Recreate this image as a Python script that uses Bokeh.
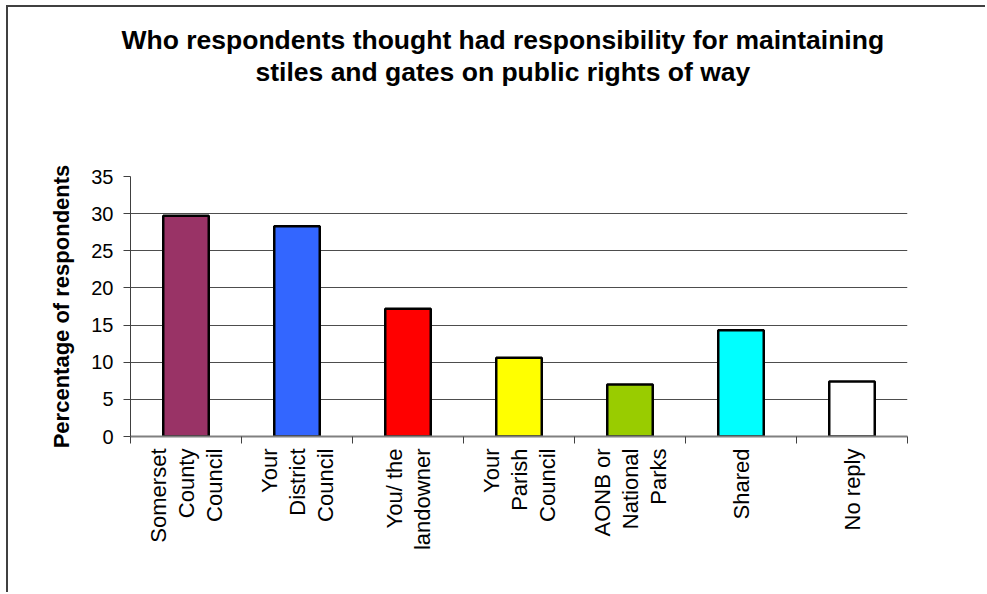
import math
from bokeh.plotting import figure
from bokeh.models import Range1d, FixedTicker, ColumnDataSource, Title
from bokeh.embed import file_html
from bokeh.resources import INLINE

# ---- data ----
categories = ["Somerset County Council", "Your District Council", "You/ the landowner",
              "Your Parish Council", "AONB or National Parks", "Shared", "No reply"]
tick_labels = ["Somerset\nCounty\nCouncil", "Your\nDistrict\nCouncil", "You/ the\nlandowner",
               "Your\nParish\nCouncil", "AONB or\nNational\nParks", "Shared", "No reply"]
values = [29.7, 28.3, 17.2, 10.6, 7.0, 14.3, 7.4]
colors = ["#993366", "#3366FF", "#FF0000", "#FFFF00", "#99CC00", "#00FFFF", "#FFFFFF"]
y_ticks = [0, 5, 10, 15, 20, 25, 30, 35]

title_lines = ["Who respondents thought had responsibility for maintaining",
               "stiles and gates on public rights of way"]
y_label = "Percentage of respondents"

FONT = "Liberation Sans"

n = len(categories)
xpos = [i + 0.5 for i in range(n)]
source = ColumnDataSource(dict(x=xpos, top=values, color=colors, cat=categories))

p = figure(width=979, height=587, output_backend="svg", toolbar_location=None,
           x_range=Range1d(0, n), y_range=Range1d(0, 35),
           min_border_left=122, min_border_right=80, min_border_top=169,
           min_border_bottom=158)

# spacer between plot area and title, then two title lines (line 2 nearest the plot)
p.add_layout(Title(text=" ", text_font_size="1px", standoff=87), "above")
title_offsets = [-9, 125]
for line, off in reversed(list(zip(title_lines, title_offsets))):
    p.add_layout(Title(text=line, align="left", offset=off, text_font=FONT,
                       text_font_size="26.5px", text_font_style="bold",
                       text_color="black", standoff=0), "above")

p.vbar(x="x", top="top", width=0.41, bottom=0, source=source,
       fill_color="color", line_color="black", line_width=2.5)

p.outline_line_color = None
p.xgrid.grid_line_color = None
p.ygrid.grid_line_color = "#4d4d4d"
p.ygrid.grid_line_width = 1

p.yaxis.ticker = FixedTicker(ticks=y_ticks)
p.yaxis.axis_line_color = "#404040"
p.yaxis.major_tick_line_color = "#404040"
p.yaxis.major_tick_in = 0
p.yaxis.major_tick_out = 7
p.yaxis.minor_tick_line_color = None
p.yaxis.major_label_text_font = FONT
p.yaxis.major_label_text_font_size = "20px"
p.yaxis.major_label_text_color = "black"
p.yaxis.major_label_standoff = 10
p.yaxis.axis_label = y_label
p.yaxis.axis_label_text_font = FONT
p.yaxis.axis_label_text_font_size = "22px"
p.yaxis.axis_label_text_font_style = "bold"
p.yaxis.axis_label_text_color = "black"
p.yaxis.axis_label_standoff = 14

p.xaxis.ticker = FixedTicker(ticks=xpos, minor_ticks=list(range(n + 1)))
p.xaxis.major_label_overrides = {x: lab for x, lab in zip(xpos, tick_labels)}
p.xaxis.major_label_orientation = math.pi / 2
p.xaxis.axis_line_color = "#808080"
p.xaxis.axis_line_width = 2
p.xaxis.major_tick_line_color = None
p.xaxis.minor_tick_line_color = "#404040"
p.xaxis.minor_tick_in = 0
p.xaxis.minor_tick_out = 7
p.xaxis.major_label_text_font = FONT
p.xaxis.major_label_text_font_size = "22px"
p.xaxis.major_label_text_line_height = 1.12
p.xaxis.major_label_text_color = "black"
p.xaxis.major_label_standoff = 5

p.styles = {"border-left": "2px solid #404040", "border-top": "2px solid #404040",
            "margin-left": "6px", "margin-top": "5px"}

open("out.html", "w").write(file_html(p, INLINE))
